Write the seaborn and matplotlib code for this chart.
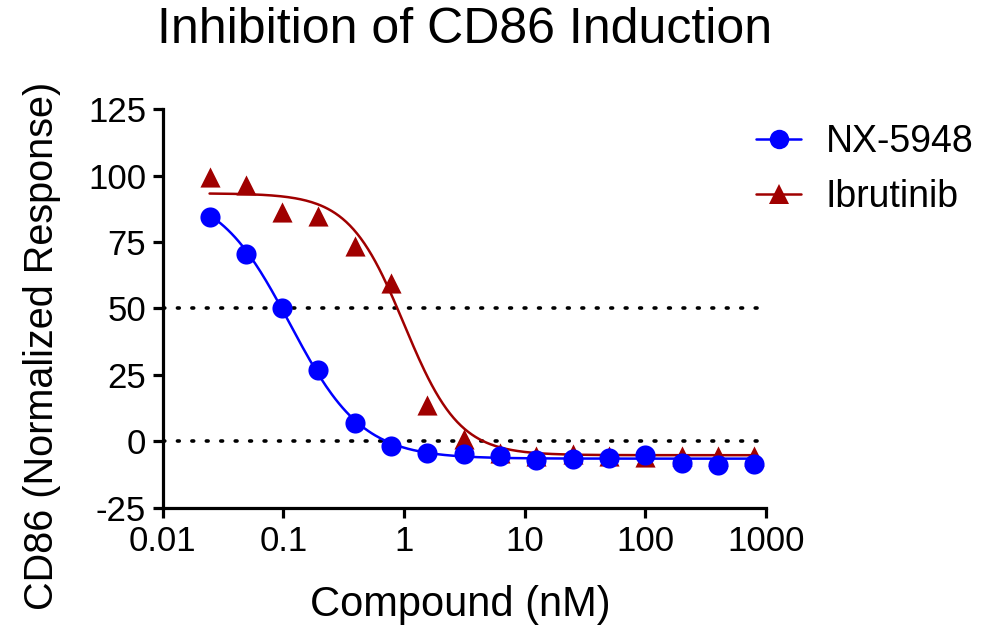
import numpy as np
import pandas as pd
import matplotlib
matplotlib.use("Agg")
import matplotlib.pyplot as plt
from matplotlib.lines import Line2D
import seaborn as sns

# Dados
conc_nM = [0.0244, 0.0488, 0.0977, 0.195, 0.39, 0.78, 1.56, 3.125,
           6.25, 12.5, 25, 50, 100, 200, 400, 800]
nx5948 = [84.5, 70.5, 50.2, 27.0, 7.0, -1.9, -4.4, -4.6,
          -5.6, -6.9, -6.5, -6.1, -5.2, -8.0, -9.0, -8.4]
ibrutinib = [99.4, 96.6, 86.4, 84.6, 73.4, 59.7, 13.5, 0.8,
             -4.2, -5.5, -4.8, -5.5, -5.9, -5.5, -5.6, -5.5]

# Parâmetros do ajuste 4PL (topo, base, IC50, Hill)
fit_nx = (95.0, -6.5, 0.113, 1.45)
fit_ibr = (93.3, -5.2, 1.0, 1.9)

x_ticks = [0.01, 0.1, 1, 10, 100, 1000]
x_labels = ["0.01", "0.1", "1", "10", "100", "1000"]
y_ticks = [-25, 0, 25, 50, 75, 100, 125]

azul = "#0000FF"
vermelho = "#A00000"


def curva_4pl(x, params):
    topo, base, ic50, hill = params
    return base + (topo - base) / (1 + (x / ic50) ** hill)


def main():
    sns.set_style("ticks")
    plt.rcParams["font.family"] = ["Liberation Sans", "DejaVu Sans"]
    plt.rcParams["axes.unicode_minus"] = False
    plt.rcParams["text.color"] = "black"
    plt.rcParams["axes.labelcolor"] = "black"

    fig = plt.figure(figsize=(9.87, 6.34), dpi=100)
    ax = fig.add_axes([0.165, 0.199, 0.611, 0.629])
    ax.set_xscale("log")

    pontos = pd.DataFrame({"conc": conc_nM, "NX-5948": nx5948, "Ibrutinib": ibrutinib})
    xs = np.logspace(np.log10(conc_nM[0]), np.log10(conc_nM[-1]), 300)
    curvas = pd.DataFrame({"conc": xs,
                           "NX-5948": curva_4pl(xs, fit_nx),
                           "Ibrutinib": curva_4pl(xs, fit_ibr)})

    # linhas de referência pontilhadas
    for yref in (50, 0):
        ax.axhline(yref, color="black", linestyle=(0, (0.5, 3.5)), linewidth=2.6,
                   dash_capstyle="round", zorder=1)

    sns.lineplot(data=curvas, x="conc", y="Ibrutinib", color=vermelho, linewidth=1.8, ax=ax, zorder=2)
    sns.lineplot(data=curvas, x="conc", y="NX-5948", color=azul, linewidth=1.8, ax=ax, zorder=3)
    sns.scatterplot(data=pontos, x="conc", y="Ibrutinib", marker="^", s=210, color=vermelho,
                    edgecolor=vermelho, linewidth=0, ax=ax, zorder=4)
    sns.scatterplot(data=pontos, x="conc", y="NX-5948", marker="o", s=210, color=azul,
                    edgecolor=azul, linewidth=0, ax=ax, zorder=5)

    ax.set_xlim(0.01, 1000)
    ax.set_ylim(-25, 125)
    ax.set_xticks(x_ticks)
    ax.set_xticklabels(x_labels)
    ax.xaxis.set_minor_locator(matplotlib.ticker.NullLocator())
    ax.set_yticks(y_ticks)

    for lado in ("top", "right"):
        ax.spines[lado].set_visible(False)
    for lado in ("left", "bottom"):
        ax.spines[lado].set_linewidth(2.3)
        ax.spines[lado].set_color("black")
    ax.tick_params(axis="both", which="major", length=7, width=2.3, color="black",
                   labelsize=25, pad=5, labelcolor="black")

    ax.set_xlabel("Compound (nM)", fontsize=30, va="center")
    ax.xaxis.set_label_coords(0.493, -0.2425)
    ax.set_ylabel("CD86 (Normalized Response)", fontsize=28.5, va="center")
    ax.yaxis.set_label_coords(-0.2, 0.405)
    fig.text(0.471, 0.953, "Inhibition of CD86 Induction", fontsize=36, ha="center", va="center")

    handles = [
        Line2D([0], [0], color=azul, linewidth=1.8, marker="o", markersize=14, markeredgewidth=0),
        Line2D([0], [0], color=vermelho, linewidth=1.8, marker="^", markersize=14, markeredgewidth=0),
    ]
    ax.legend(handles, ["NX-5948", "Ibrutinib"], loc="upper left", bbox_to_anchor=(0.766, 0.805),
              bbox_transform=fig.transFigure, borderaxespad=0, borderpad=0,
              frameon=False, fontsize=27, handlelength=1.2, handletextpad=0.65, labelspacing=0.52)

    fig.savefig("out.png", dpi=100)


if __name__ == "__main__":
    main()
